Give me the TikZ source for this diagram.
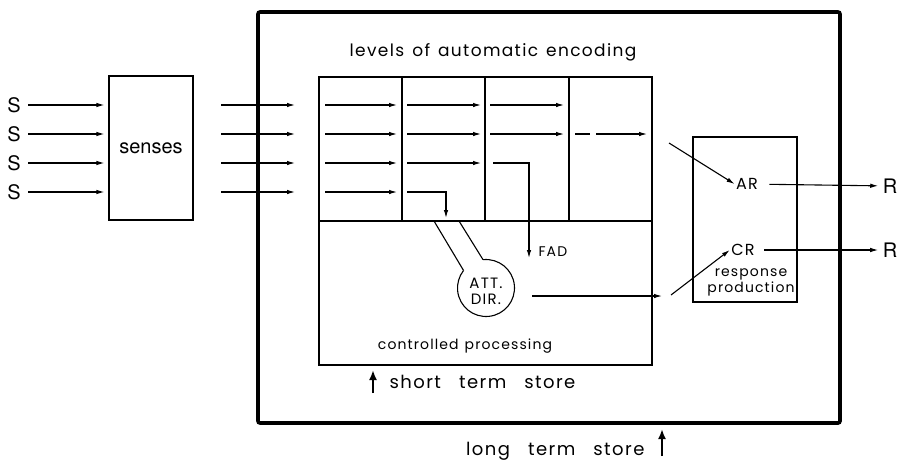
\documentclass[tikz,border=0pt]{standalone}
\usepackage{fontspec}
\setmainfont{TeX Gyre Heros}
\newfontfamily\geofont[LetterSpace=8]{Poppins}
\usetikzlibrary{arrows.meta, calc}
\tikzset{>={Latex[length=8pt,width=4.5pt]}}
\newcommand{\wgap}{\hspace{6pt}}
\newcommand{\wgapw}{\hspace{18pt}}

\begin{document}
\begin{tikzpicture}[x=1pt, y=-1pt, line width=1.1pt,
    lbl/.style={inner sep=1pt, font=\fontsize{20}{22}\selectfont},
    inlbl/.style={inner sep=1pt, font=\geofont\fontsize{14}{16}\selectfont},
    bigup/.style={line width=2.4pt, -{Latex[length=10pt,width=8pt]}}]
  \useasboundingbox (0,0) rectangle (903,464);
  % long term store
  \draw[line width=3.6pt, rounded corners=2pt] (258,12) rectangle (840,423);
  % senses
  \node[draw, minimum width=84pt, minimum height=144pt,
        font=\fontsize{20}{22}\selectfont] (senses) at (151,148) {senses};
  \foreach \i/\y in {1/105, 2/134, 3/163, 4/192} {
    \node[lbl] (s\i) at (14,\y) {S};
    \draw[->, shorten <=6pt, shorten >=4pt] (s\i) -- (s\i -| senses.west);
    \draw[->] (221,\y) -- (295,\y);
  }
  % levels of automatic encoding
  \node[inlbl, font=\geofont\fontsize{17}{18}\selectfont] (levels) at (493,52)
    {levels\hspace{8pt}of\hspace{8pt}automatic\hspace{8pt}encoding};
  \draw (319,77) rectangle (652,365);
  \draw (319,221) -- (652,221);
  \foreach \x in {402, 485, 569}
    \draw (\x,77) -- (\x,221);
  \foreach \y in {105, 134, 163} {
    \draw[->] (325,\y) -- (397,\y);
    \draw[->] (407,\y) -- (481,\y);
  }
  \draw[->] (490,105) -- (564,105);
  \draw[->] (490,134) -- (564,134);
  \draw (575,134) -- (590,134);
  \draw[->] (596,134) -- (647,134);
  \draw[->] (325,192) -- (397,192);
  \draw[->] (407,192) -- (446,192) -- (446,218);
  % FAD
  \node[inlbl, anchor=west] (fad) at (537,252) {FAD};
  \draw[->] (493,163) -- (529,163) -- (529,258);
  % attention director
  \node[inlbl, align=center, minimum size=58pt, font=\geofont\fontsize{15}{16}\selectfont]
    (attdir) at (486,291) {ATT.\\DIR.};
  \coordinate (neckA) at ($(486,288)+(218:28.5)$);
  \coordinate (neckB) at ($(486,288)+(264:28.5)$);
  \draw (neckB) arc (264:578:28.5);
  \draw (434,221) -- (neckA);
  \draw (459,221) -- (neckB);
  \node[inlbl] (ctrl) at (465,346) {controlled\wgap processing};
  % response production
  \draw (693,137) rectangle (797,302);
  \node[inlbl, font=\geofont\fontsize{16}{18}\selectfont] (ar) at (747,184) {AR};
  \node[inlbl, font=\geofont\fontsize{16}{18}\selectfont] (cr) at (743,250) {CR};
  \node[inlbl, align=center, font=\geofont\fontsize{14}{16}\selectfont]
    (resp) at (751,282) {response\\production};
  \draw[->] (669,143) -- (ar.west);
  \draw[->] (532,296) -- (662,296);
  \draw[->] (671,295) -- (cr.west);
  \node[lbl] (r1) at (890,186) {R};
  \node[lbl] (r2) at (890,250) {R};
  \draw[->, shorten <=10pt, shorten >=3pt] (ar) -- (r1);
  \draw[->, shorten <=8pt, shorten >=3pt] (cr) -- (r2);
  % stores
  \node[inlbl, anchor=west, font=\geofont\fontsize{18}{20}\selectfont] (sts) at (388,382)
    {short\wgapw term\wgapw store};
  \draw[bigup] (373,393) -- (373,370);
  \node[inlbl, anchor=east, font=\geofont\fontsize{18}{20}\selectfont] (lts) at (646,451)
    {long\wgapw term\wgapw store};
  \draw[bigup] (662,456) -- (662,429);
\end{tikzpicture}
\end{document}
